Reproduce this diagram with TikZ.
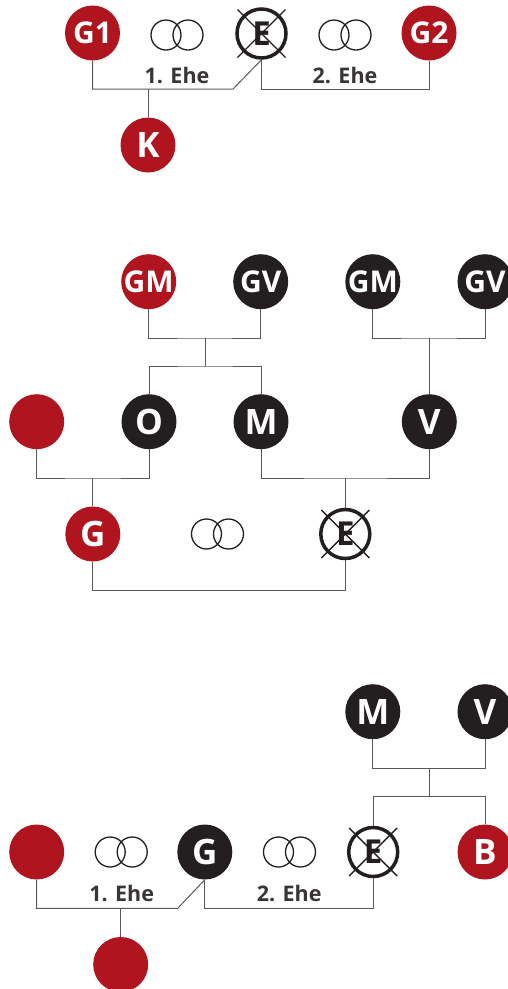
\documentclass[tikz,border=0pt]{standalone}
\usepackage{fontspec}
\setmainfont{Open Sans}
\definecolor{ahnrot}{RGB}{176,20,30}
\definecolor{ahnschwarz}{RGB}{35,31,32}
\newcommand\ringe[1]{\draw[ring] ([xshift=-11pt]#1) circle (15pt) ([xshift=11pt]#1) circle (15pt);}
\newcommand\kreuz[1]{\draw[kreuzlinie] ([shift={(-24pt,24pt)}]#1.center) -- ([shift={(24pt,-24pt)}]#1.center)
	([shift={(-24pt,-24pt)}]#1.center) -- ([shift={(24pt,24pt)}]#1.center);}

\begin{document}
\begin{tikzpicture}[x=1pt,y=-1pt,
					person/.style={circle,minimum size=55pt,inner sep=0pt,text=white,
						font=\bfseries\fontsize{30}{30}\selectfont},
					rotp/.style={person,fill=ahnrot},
					schwarzp/.style={person,fill=ahnschwarz},
					gross/.style={font=\bfseries\fontsize{35}{35}\selectfont},
					weg/.style={circle,draw=ahnschwarz,line width=3.5pt,fill=white,minimum size=49pt,
						inner sep=0pt,text=ahnschwarz,font=\bfseries\fontsize{33}{33}\selectfont},
					kreuzlinie/.style={draw=ahnschwarz,line width=1.4pt},
					ring/.style={draw=ahnschwarz,line width=1.3pt},
					link/.style={draw=black!65,line width=1pt},
					ehe/.style={anchor=base,text=ahnschwarz!90,font=\bfseries\fontsize{21.5}{21.5}\selectfont}]
	\useasboundingbox (0,0) rectangle (507,989);
	% erste Familie
	\node[rotp] (g1) at (92.5,33) {G1};
	\node[weg] (e1) at (261.5,33.5) {E};
	\node[rotp] (g2) at (429,33) {G2};
	\node[rotp,gross] (k1) at (148,145) {K};
	\coordinate (r1) at (177,35);
	\coordinate (r2) at (345,35);
	\ringe{r1} \ringe{r2}
	\kreuz{e1}
	\node[ehe] (ehe1) at (177,83.3) {1. Ehe};
	\node[ehe] (ehe2) at (345,83.3) {2. Ehe};
	\coordinate (bar1) at (233,89);
	\draw[link] (g1.south) |- (bar1) -- (e1.south);
	\draw[link] (e1.south) -- (e1.south |- bar1) -| (g2.south);
	\draw[link] (k1.north) -- (k1.north |- bar1);
	% zweite Familie
	\node[rotp] (gm1) at (148.7,281.7) {GM};
	\node[schwarzp] (gv1) at (260.7,281.7) {GV};
	\node[schwarzp] (gm2) at (372.8,281.7) {GM};
	\node[schwarzp] (gv2) at (485,281.7) {GV};
	\node[rotp] (leer1) at (36.7,421.7) {};
	\node[schwarzp,gross] (o) at (149,421.7) {O};
	\node[schwarzp,gross] (m1) at (261,421.7) {M};
	\node[schwarzp,gross] (v1) at (429.3,421.7) {V};
	\node[rotp,gross] (g) at (92.8,534) {G};
	\node[weg] (e2) at (345.3,534) {E};
	\coordinate (r3) at (217.5,534);
	\ringe{r3}
	\kreuz{e2}
	\coordinate (gp1) at (205,338);
	\coordinate (gp2) at (429.3,338);
	\coordinate (sib1) at (205,366);
	\coordinate (par1) at (92.8,478);
	\coordinate (par2) at (345.3,478);
	\coordinate (bar2) at (345.3,590);
	\draw[link] (gm1.south) |- (gp1) -| (gv1.south);
	\draw[link] (gp1) -- (sib1);
	\draw[link] (o.north) |- (sib1) -| (m1.north);
	\draw[link] (gm2.south) |- (gp2) -| (gv2.south);
	\draw[link] (gp2) -- (v1.north);
	\draw[link] (leer1.south) |- (par1) -| (o.south);
	\draw[link] (par1) -- (g.north);
	\draw[link] (m1.south) |- (par2) -| (v1.south);
	\draw[link] (par2) -- (e2.north);
	\draw[link] (g.south) |- (bar2) -- (e2.south);
	% dritte Familie
	\node[schwarzp,gross] (m3) at (372.8,711.7) {M};
	\node[schwarzp,gross] (v3) at (485,711.7) {V};
	\node[rotp] (leer2) at (36.7,852) {};
	\node[schwarzp,gross] (g3) at (204.8,852) {G};
	\node[weg] (e3) at (373.2,852) {E};
	\node[rotp,gross] (b) at (485,852) {B};
	\node[rotp] (kind) at (120.7,964.5) {};
	\coordinate (r4) at (121.2,852);
	\coordinate (r5) at (289.5,852);
	\ringe{r4} \ringe{r5}
	\kreuz{e3}
	\node[ehe] (ehe3) at (121.7,901.7) {1. Ehe};
	\node[ehe] (ehe4) at (289.2,901.7) {2. Ehe};
	\coordinate (gp3) at (429.3,768.3);
	\coordinate (sib3) at (429.3,796.3);
	\coordinate (bar3) at (177.7,908.3);
	\draw[link] (m3.south) |- (gp3) -| (v3.south);
	\draw[link] (gp3) -- (sib3);
	\draw[link] (e3.north) |- (sib3) -| (b.north);
	\draw[link] (leer2.south) |- (bar3) -- (g3.south);
	\draw[link] (g3.south) -- (g3.south |- bar3) -| (e3.south);
	\draw[link] (kind.north) -- (kind.north |- bar3);
\end{tikzpicture}
\end{document}
